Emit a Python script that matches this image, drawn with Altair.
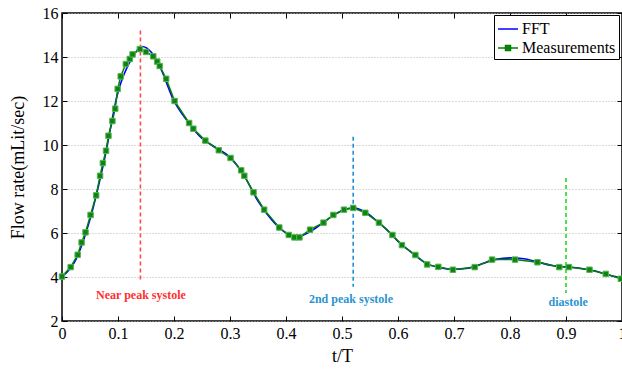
import altair as alt
import pandas as pd

# ---------------- data ----------------
meas_t = [0.000, 0.0155, 0.028, 0.035, 0.042, 0.051, 0.061, 0.068, 0.073, 0.0786,
          0.083, 0.090, 0.095, 0.0994, 0.1048, 0.114, 0.121, 0.126, 0.139, 0.150,
          0.163, 0.170, 0.1745, 0.186, 0.201, 0.227, 0.2345, 0.256, 0.280, 0.301,
          0.320, 0.3256, 0.342, 0.361, 0.388, 0.405, 0.415, 0.424, 0.443, 0.467,
          0.4845, 0.5036, 0.520, 0.5416, 0.566, 0.590, 0.607, 0.631, 0.652, 0.672,
          0.698, 0.737, 0.768, 0.809, 0.849, 0.888, 0.905, 0.942, 0.971, 0.998]
meas_q = [4.02, 4.45, 5.01, 5.57, 6.03, 6.82, 7.71, 8.60, 9.18, 9.74,
          10.42, 11.09, 11.65, 12.55, 13.12, 13.68, 13.91, 14.12, 14.36, 14.23,
          14.03, 13.79, 13.59, 13.01, 12.00, 11.00, 10.74, 10.20, 9.76, 9.41,
          8.85, 8.60, 7.85, 7.06, 6.25, 5.91, 5.80, 5.80, 6.15, 6.47,
          6.82, 7.06, 7.14, 6.92, 6.47, 5.91, 5.45, 5.00, 4.57, 4.46,
          4.33, 4.45, 4.79, 4.79, 4.67, 4.45, 4.45, 4.33, 4.14, 3.92]

fft_t = [0.0, 0.025, 0.05, 0.075, 0.1, 0.125, 0.143, 0.16, 0.175, 0.2,
         0.225, 0.25, 0.275, 0.3, 0.325, 0.35, 0.375, 0.4, 0.42, 0.44,
         0.46, 0.48, 0.5, 0.52, 0.54, 0.56, 0.58, 0.6, 0.625, 0.65,
         0.675, 0.7, 0.725, 0.75, 0.775, 0.8, 0.825, 0.85, 0.875, 0.9,
         0.925, 0.95, 0.975, 1.0]
fft_q = [4.0, 4.8, 6.62, 9.25, 12.4, 13.95, 14.48, 14.2, 13.55, 12.0,
         11.05, 10.3, 9.88, 9.45, 8.62, 7.45, 6.58, 6.0, 5.82, 6.02,
         6.35, 6.72, 7.02, 7.15, 6.98, 6.6, 6.15, 5.62, 5.1, 4.62,
         4.42, 4.35, 4.4, 4.6, 4.8, 4.87, 4.83, 4.68, 4.52, 4.46,
         4.4, 4.28, 4.1, 3.95]

mark_t = [0.14, 0.52, 0.90]
mark_top = [15.2, 10.38, 8.5]
mark_bottom = [3.83, 3.56, 3.27]
mark_colors = ["#ff4d4d", "#1f8fd6", "#22dd22"]

label_text = ["Near peak systole", "2nd peak systole", "diastole"]
label_t = [0.141, 0.516, 0.904]
label_q = [3.18, 3.0, 2.85]
label_colors = ["#ff3030", "#2b93d1", "#2b93d1"]

series_names = ["FFT", "Measurements"]
series_colors = ["#0000ff", "#008000"]

x_ticks = [0, 0.1, 0.2, 0.3, 0.4, 0.5, 0.6, 0.7, 0.8, 0.9, 1]
y_ticks = [2, 4, 6, 8, 10, 12, 14, 16]

# ---------------- tables ----------------
df_fft = pd.DataFrame({"t": fft_t, "q": fft_q, "series": "FFT"})
df_meas = pd.DataFrame({"t": meas_t, "q": meas_q, "series": "Measurements"})
df_marks = pd.DataFrame({"t": mark_t, "top": mark_top, "bottom": mark_bottom, "c": mark_colors})
df_labels = pd.DataFrame({"t": label_t, "q": label_q, "txt": label_text, "c": label_colors})

FONT = "Liberation Serif"
W, H = 560, 308

xs = alt.Scale(domain=[0, 1], nice=False, zero=False)
ys = alt.Scale(domain=[2, 16], nice=False, zero=False)

x_main = alt.Axis(values=x_ticks, format=".1~f", orient="bottom", ticks=False, tickSize=0,
                  domain=False, grid=False, labelFont=FONT, labelFontSize=16, labelColor="black",
                  labelPadding=4, labelFlush=False, labelOverlap=False,
                  title="t/T", titleFont=FONT, titleFontSize=18, titleFontWeight="normal",
                  titleColor="black", titlePadding=6)
y_main = alt.Axis(values=y_ticks, orient="left", ticks=False, tickSize=0, domain=False,
                  grid=True, gridColor="#b5b5b5", gridDash=[1, 2], gridWidth=1,
                  labelFont=FONT, labelFontSize=16, labelColor="black", labelPadding=4,
                  labelFlush=False, labelOverlap=False,
                  title="Flow rate(mLit/sec)", titleFont=FONT, titleFontSize=18,
                  titleFontWeight="normal", titleColor="black", titlePadding=15)


def tick_axis(vals, orient, offset):
    return alt.Axis(values=vals, orient=orient, offset=offset, labels=False, domain=False,
                    grid=False, ticks=True, tickSize=5, tickColor="black", tickWidth=1,
                    title=None)


legend = alt.Legend(
    title=None, orient="none", legendX=432, legendY=2,
    labelFont=FONT, labelFontSize=16, labelColor="black", labelOffset=3,
    symbolSize=400, symbolStrokeWidth=1.5, rowPadding=0, padding=3,
    strokeColor="black", fillColor="white", cornerRadius=0,
    symbolType={"expr": "datum.value === 'FFT' ? 'stroke' : 'M-1,0H1M-0.25,-0.25H0.25V0.25H-0.25Z'"},
    symbolFillColor={"expr": "datum.value === 'FFT' ? 'transparent' : '#138a13'"},
)
color_enc = alt.Color("series:N", scale=alt.Scale(domain=series_names, range=series_colors),
                      legend=legend)

fft_line = alt.Chart(df_fft).mark_line(strokeWidth=1.6, interpolate="monotone").encode(
    x=alt.X("t:Q", scale=xs, axis=x_main),
    y=alt.Y("q:Q", scale=ys, axis=y_main),
    color=color_enc,
)

meas_line = alt.Chart(df_meas).mark_line(strokeWidth=1.5).encode(
    x=alt.X("t:Q", scale=xs, axis=tick_axis(x_ticks, "top", -H)),
    y=alt.Y("q:Q", scale=ys, axis=tick_axis(y_ticks, "right", -W)),
    color=color_enc,
)

meas_pts = alt.Chart(df_meas).mark_point(shape="square", filled=True, size=30, fill="#128312",
                                         stroke="#55b855", strokeWidth=1, opacity=1).encode(
    x=alt.X("t:Q", scale=xs, axis=tick_axis(x_ticks, "bottom", -H)),
    y=alt.Y("q:Q", scale=ys, axis=tick_axis(y_ticks, "left", -W)),
)

rules = alt.Chart(df_marks).mark_rule(strokeWidth=1.6, strokeDash=[4, 3]).encode(
    x=alt.X("t:Q", scale=xs, axis=None),
    y=alt.Y("top:Q", scale=ys, axis=None),
    y2="bottom:Q",
    color=alt.Color("c:N", scale=None),
)

labels = alt.Chart(df_labels).mark_text(font=FONT, fontSize=12, fontWeight="bold",
                                        align="center", baseline="middle").encode(
    x=alt.X("t:Q", scale=xs, axis=None),
    y=alt.Y("q:Q", scale=ys, axis=None),
    text="txt:N",
    color=alt.Color("c:N", scale=None),
)

chart = alt.layer(fft_line, meas_line, rules, meas_pts, labels).resolve_axis(
    x="independent", y="independent"
).properties(
    width=W, height=H,
    autosize=alt.AutoSizeParams(type="none"),
    padding={"left": 62, "top": 13, "right": 0, "bottom": 51},
    background="white",
).configure_view(stroke="black", strokeWidth=1.5)

chart.save("out.html", embed_options={"renderer": "svg", "actions": False})
